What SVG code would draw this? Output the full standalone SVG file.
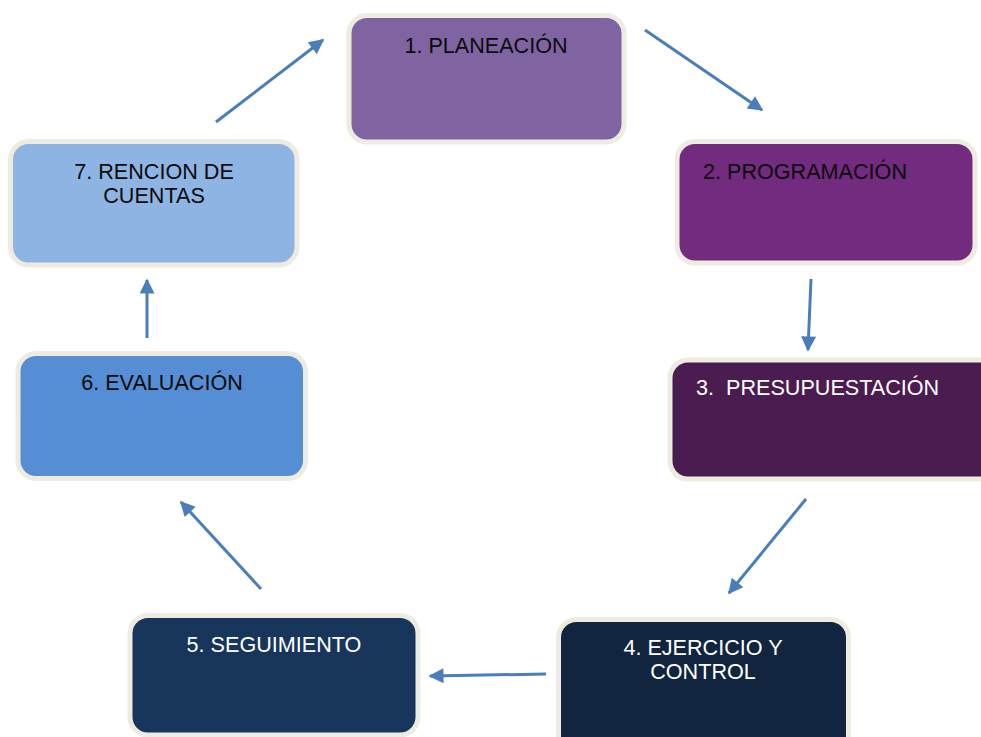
<svg xmlns="http://www.w3.org/2000/svg" width="981" height="737" viewBox="0 0 981 737">
  <style>
    .box { stroke: #EEECE1; stroke-width: 5; }
    .lbl { font-family: "Liberation Sans", Arial, sans-serif; font-size: 21.6px; }
    .dark { fill: #0A0A0A; }
    .light { fill: #FFFFFF; }
    .conn { fill: none; stroke: #4A7EBB; stroke-width: 3; marker-end: url(#head); }
  </style>
  <defs>
    <marker id="head" viewBox="0 0 10 10" refX="9" refY="5" markerWidth="5.5" markerHeight="5" orient="auto" markerUnits="strokeWidth">
      <path d="M0,0 L10,5 L0,10 Z" fill="#4A7EBB"/>
    </marker>
  </defs>
  <rect width="981" height="737" fill="#FFFFFF"/>

  <g id="n1">
    <rect class="box" x="349" y="15.5" width="275" height="126.5" rx="18" fill="#8064A2"/>
    <text class="lbl dark" x="486" y="53" text-anchor="middle">1. PLANEACIÓN</text>
  </g>
  <g id="n2">
    <rect class="box" x="677" y="141.5" width="298" height="121.5" rx="18" fill="#722B7E"/>
    <text class="lbl dark" x="703" y="179">2. PROGRAMACIÓN</text>
  </g>
  <g id="n3">
    <rect class="box" x="670" y="360" width="330" height="119" rx="18" fill="#4A1C4F"/>
    <text class="lbl light" x="696" y="395" xml:space="preserve">3.  PRESUPUESTACIÓN</text>
  </g>
  <g id="n4">
    <rect class="box" x="558.5" y="619.5" width="290" height="140" rx="18" fill="#12253F"/>
    <text class="lbl light" x="703" y="655" text-anchor="middle">4. EJERCICIO Y</text>
    <text class="lbl light" x="703" y="679" text-anchor="middle">CONTROL</text>
  </g>
  <g id="n5">
    <rect class="box" x="130" y="615.5" width="288" height="119.5" rx="18" fill="#18365C"/>
    <text class="lbl light" x="274" y="652" text-anchor="middle">5. SEGUIMIENTO</text>
  </g>
  <g id="n6">
    <rect class="box" x="18" y="353.5" width="287.5" height="125" rx="18" fill="#558ED5"/>
    <text class="lbl dark" x="162" y="390" text-anchor="middle">6. EVALUACIÓN</text>
  </g>
  <g id="n7">
    <rect class="box" x="10.5" y="141.5" width="286.5" height="123.5" rx="18" fill="#8EB4E3"/>
    <text class="lbl dark" x="154" y="179" text-anchor="middle">7. RENCION DE</text>
    <text class="lbl dark" x="154" y="203" text-anchor="middle">CUENTAS</text>
  </g>

  <g id="connectors">
    <line class="conn" x1="216" y1="122" x2="323" y2="40"/>
    <line class="conn" x1="645" y1="30" x2="762" y2="110"/>
    <line class="conn" x1="811" y1="279" x2="808" y2="350"/>
    <line class="conn" x1="806" y1="499" x2="729" y2="593"/>
    <line class="conn" x1="546" y1="674" x2="430" y2="676"/>
    <line class="conn" x1="261" y1="589" x2="181" y2="502"/>
    <line class="conn" x1="147" y1="338" x2="147" y2="280"/>
  </g>
</svg>
